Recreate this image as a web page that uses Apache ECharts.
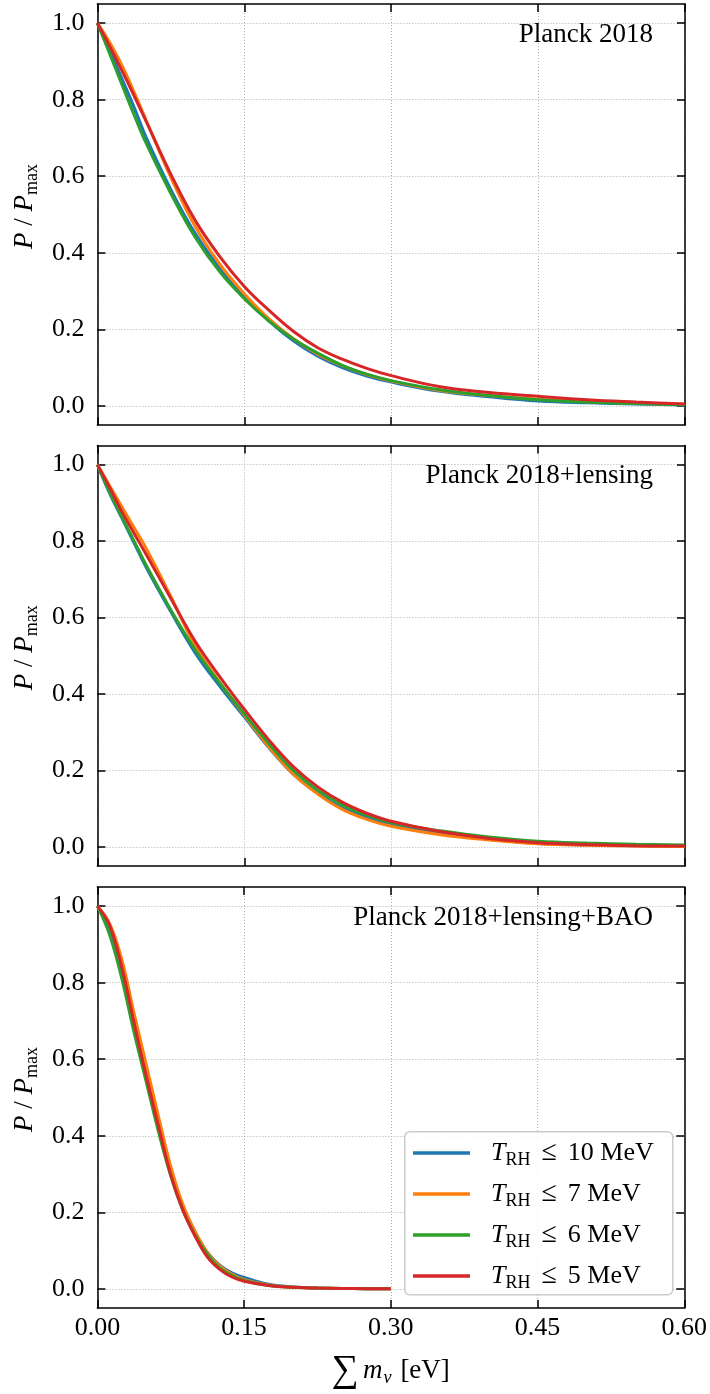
<!DOCTYPE html>
<html><head><meta charset="utf-8">
<script src="https://cdn.jsdelivr.net/npm/echarts@6/dist/echarts.min.js"></script>
<style>html,body{margin:0;padding:0;background:#fff}#c{width:710px;height:1394px}</style>
</head><body><div id="c"></div>
<script>
// ---- data ----
const xTicks = [0, 0.15, 0.30, 0.45, 0.60];
const yTicks = [0, 0.2, 0.4, 0.6, 0.8, 1.0];
const TRH = [10, 7, 6, 5];
const panelLabels = ['Planck 2018', 'Planck 2018+lensing', 'Planck 2018+lensing+BAO'];

const xsA = [0, 0.0125, 0.025, 0.0375, 0.05, 0.075, 0.1, 0.125, 0.15, 0.175, 0.2, 0.225, 0.25, 0.275, 0.3, 0.35, 0.4, 0.45, 0.5, 0.55, 0.6];
const xsB = [0, 0.0125, 0.025, 0.0375, 0.05, 0.0625, 0.075, 0.0875, 0.1, 0.1125, 0.125, 0.1375, 0.15, 0.175, 0.2, 0.225, 0.25, 0.275, 0.3];

// Panel 1: Planck 2018
const p1_T10 = [1.0, 0.93, 0.855, 0.78, 0.70, 0.565, 0.45, 0.36, 0.285, 0.222, 0.17, 0.13, 0.10, 0.078, 0.062, 0.038, 0.024, 0.013, 0.008, 0.005, 0.002];
const p1_T7  = [1.0, 0.95, 0.89, 0.82, 0.745, 0.597, 0.468, 0.37, 0.293, 0.228, 0.176, 0.135, 0.105, 0.082, 0.065, 0.04, 0.027, 0.017, 0.011, 0.007, 0.004];
const p1_T6  = [1.0, 0.92, 0.84, 0.76, 0.685, 0.555, 0.44, 0.35, 0.28, 0.222, 0.175, 0.138, 0.106, 0.083, 0.066, 0.042, 0.027, 0.016, 0.010, 0.006, 0.003];
const p1_T5  = [1.0, 0.94, 0.876, 0.81, 0.742, 0.605, 0.484, 0.39, 0.312, 0.25, 0.195, 0.152, 0.122, 0.098, 0.079, 0.05, 0.035, 0.025, 0.016, 0.010, 0.005];

// Panel 2: Planck 2018+lensing
const p2_T10 = [1.0, 0.925, 0.86, 0.795, 0.73, 0.615, 0.507, 0.42, 0.34, 0.26, 0.19, 0.14, 0.102, 0.077, 0.058, 0.035, 0.020, 0.009, 0.005, 0.003, 0.002];
const p2_T7  = [1.0, 0.945, 0.89, 0.835, 0.78, 0.655, 0.525, 0.43, 0.345, 0.262, 0.19, 0.138, 0.098, 0.072, 0.054, 0.032, 0.018, 0.008, 0.004, 0.002, 0.001];
const p2_T6  = [1.0, 0.928, 0.863, 0.80, 0.736, 0.62, 0.515, 0.428, 0.348, 0.27, 0.20, 0.148, 0.11, 0.083, 0.064, 0.042, 0.026, 0.015, 0.010, 0.007, 0.005];
const p2_T5  = [1.0, 0.94, 0.877, 0.82, 0.764, 0.65, 0.537, 0.445, 0.36, 0.28, 0.21, 0.157, 0.117, 0.088, 0.067, 0.04, 0.022, 0.011, 0.006, 0.003, 0.002];

// Panel 3: Planck 2018+lensing+BAO
const p3_T10 = [1.0, 0.945, 0.83, 0.69, 0.555, 0.425, 0.305, 0.21, 0.145, 0.095, 0.062, 0.042, 0.03, 0.012, 0.005, 0.002, 0.001, 0.0005, 0];
const p3_T7  = [1.0, 0.955, 0.86, 0.72, 0.585, 0.45, 0.32, 0.22, 0.15, 0.095, 0.06, 0.038, 0.024, 0.010, 0.004, 0.002, 0.001, 0.0005, 0];
const p3_T6  = [1.0, 0.925, 0.81, 0.67, 0.54, 0.41, 0.295, 0.205, 0.14, 0.09, 0.055, 0.035, 0.022, 0.009, 0.004, 0.002, 0.001, 0.0005, 0];
const p3_T5  = [1.0, 0.95, 0.84, 0.695, 0.555, 0.425, 0.298, 0.205, 0.137, 0.083, 0.051, 0.031, 0.020, 0.009, 0.004, 0.002, 0.001, 0.0005, 0];

const panels = [
  { xs: xsA, ys: [p1_T10, p1_T7, p1_T6, p1_T5] },
  { xs: xsA, ys: [p2_T10, p2_T7, p2_T6, p2_T5] },
  { xs: xsB, ys: [p3_T10, p3_T7, p3_T6, p3_T5] }
];

// ---- style ----
const COLORS = ['#1f77b4', '#ff7f0e', '#2ca02c', '#d62728'];
const FONT = 'Liberation Serif';
const GRIDS = [{ top: 4, height: 421 }, { top: 445.5, height: 420.5 }, { top: 887, height: 421 }];
const TICKFS = 26;

const seriesName = t => 'T_RH <= ' + t + ' MeV';

const grid = [], xAxis = [], yAxis = [], series = [], title = [];
const axisLine = { show: true, onZero: false, lineStyle: { color: '#000', width: 1.5 } };
const axisTick = { show: true, inside: true, length: 8, lineStyle: { color: '#000', width: 1.5 } };
const splitLine = { show: true, lineStyle: { color: '#b0b0b0', width: 1, type: [1, 2] } };

panels.forEach((p, i) => {
  grid.push({ left: 89, right: 25, top: GRIDS[i].top, height: GRIDS[i].height });
  const xBase = { type: 'value', gridIndex: i, min: 0, max: 0.6, interval: 0.15 };
  xAxis.push(Object.assign({}, xBase, {
    position: 'bottom', axisLine, axisTick, splitLine,
    axisLabel: { show: i === 2, margin: 7, fontFamily: FONT, fontSize: TICKFS, color: '#000',
      formatter: v => v.toFixed(2) },
    name: i === 2 ? '{sum|∑}{m|m}{s|ν}{n|[eV]}' : '',
    nameLocation: 'middle', nameGap: 42,
    nameTextStyle: {
      rich: {
        sum: { fontFamily: FONT, fontSize: 38, color: '#000', lineHeight: 42, padding: [0, 4, 0, 0] },
        m: { fontFamily: FONT, fontSize: 27, fontStyle: 'italic', color: '#000', lineHeight: 30 },
        s: { fontFamily: FONT, fontSize: 18, fontStyle: 'italic', color: '#000', lineHeight: 18, padding: [14, 9, 0, 1] },
        n: { fontFamily: FONT, fontSize: 27, color: '#000', lineHeight: 30 }
      }
    }
  }));
  xAxis.push(Object.assign({}, xBase, {
    position: 'top', axisLine, axisTick, splitLine: { show: false }, axisLabel: { show: false }
  }));
  const yBase = { type: 'value', gridIndex: i, min: -0.05, max: 1.05 };
  yAxis.push(Object.assign({}, yBase, {
    position: 'left', axisLine,
    axisTick: Object.assign({}, axisTick, { customValues: yTicks }),
    splitLine,
    axisLabel: { customValues: yTicks, margin: 13, fontFamily: FONT, fontSize: TICKFS, color: '#000',
      formatter: v => v.toFixed(1) },
    name: '{i|P}{n| / }{i|P}{s|max}',
    nameLocation: 'middle', nameGap: 57,
    nameTextStyle: {
      padding: [0, 0, 0, 16],
      rich: {
        i: { fontFamily: FONT, fontSize: 27, fontStyle: 'italic', color: '#000', lineHeight: 30 },
        n: { fontFamily: FONT, fontSize: 27, color: '#000', lineHeight: 30 },
        s: { fontFamily: FONT, fontSize: 18, color: '#000', lineHeight: 18, padding: [15, 0, 0, 0] }
      }
    }
  }));
  yAxis.push(Object.assign({}, yBase, {
    position: 'right', axisLine,
    axisTick: Object.assign({}, axisTick, { customValues: yTicks }),
    splitLine: { show: false }, axisLabel: { show: false }
  }));
  title.push({
    text: panelLabels[i], right: 57, top: GRIDS[i].top + 17, padding: 0,
    textStyle: { fontFamily: FONT, fontSize: 27, fontWeight: 'normal', color: '#000' }
  });
  p.ys.forEach((ys, k) => {
    series.push({
      type: 'line', name: seriesName(TRH[k]), xAxisIndex: 2 * i, yAxisIndex: 2 * i,
      data: p.xs.map((x, j) => [x, ys[j]]),
      showSymbol: false, symbol: 'none', smooth: 0.4,
      color: COLORS[k], lineStyle: { color: COLORS[k], width: 3 }, z: 2 + k
    });
  });
});

const option = {
  animation: false,
  backgroundColor: '#fff',
  grid, xAxis, yAxis, series, title,
  graphic: [{
    type: 'rect', left: 404, top: 1131, z: 20,
    shape: { width: 268, height: 163, r: 5 },
    style: { fill: 'rgba(255,255,255,0.85)', stroke: '#cccccc', lineWidth: 1.5 }
  }],
  legend: {
    orient: 'vertical', left: 413, top: 1137, padding: 0, itemGap: 9, z: 30,
    icon: 'rect', itemWidth: 57, itemHeight: 3.5,
    data: TRH.map(seriesName),
    formatter: name => {
      const t = name.split('<= ')[1];
      return '{i|T}{s|RH}{le|≤}{n|' + t + '}';
    },
    textStyle: {
      rich: {
        i: { fontFamily: FONT, fontSize: 26, fontStyle: 'italic', color: '#000', lineHeight: 30, padding: [0, 0, 0, 16] },
        s: { fontFamily: FONT, fontSize: 18, color: '#000', lineHeight: 18, padding: [14, 0, 0, 0] },
        le: { fontFamily: FONT, fontSize: 28, color: '#000', lineHeight: 30, padding: [0, 11, 0, 11] },
        n: { fontFamily: FONT, fontSize: 26, color: '#000', lineHeight: 30 }
      }
    }
  }
};
echarts.init(document.getElementById('c'), null, { renderer: 'canvas' }).setOption(option);
</script></body></html>
